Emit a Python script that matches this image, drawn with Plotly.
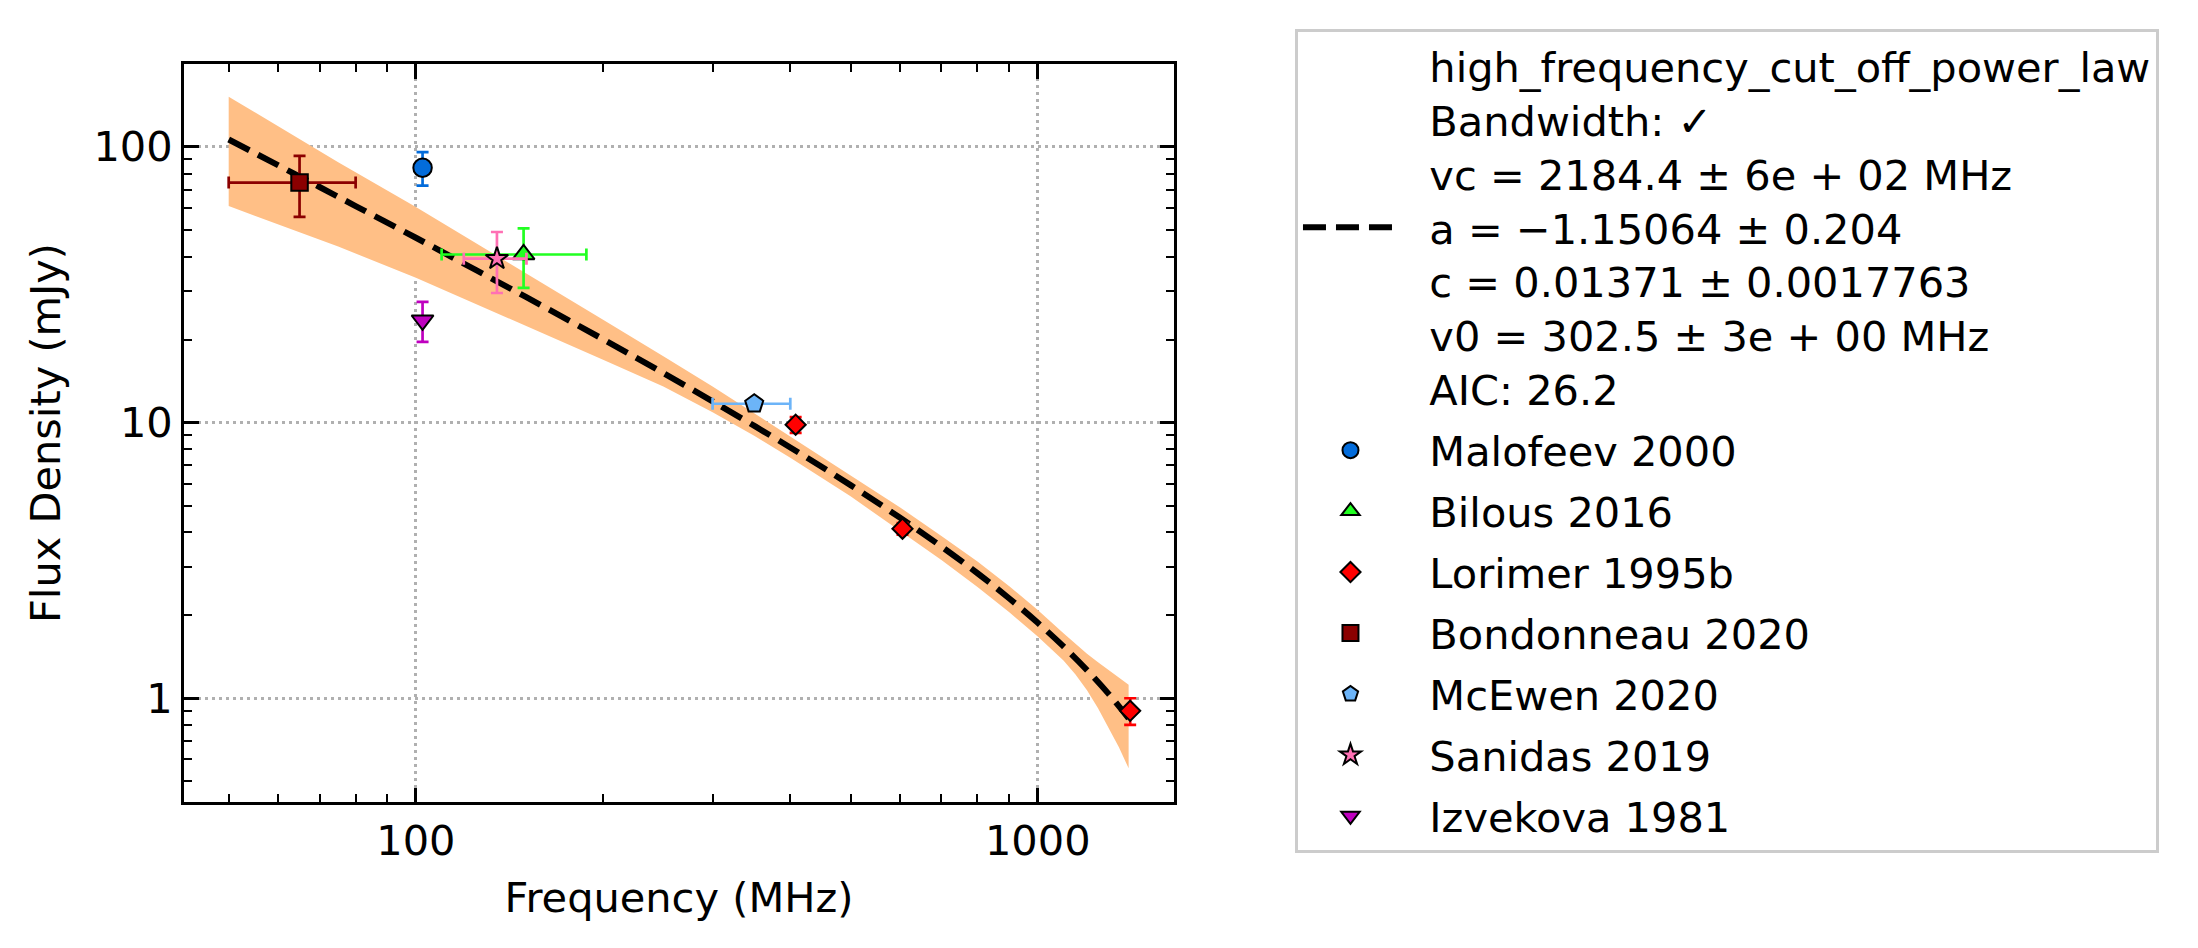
import plotly.graph_objects as go

# ---------------- data ----------------
malofeev_f = [102.5]
malofeev_s = [84.0]
malofeev_err = [11.7]

bilous_f = [149.0]
bilous_s = [40.7]
bilous_err = [9.9]
bilous_ferr = [39.0]

lorimer_f = [408.0, 606.0, 1408.0]
lorimer_s = [9.82, 4.12, 0.90]
lorimer_err = [0.65, 0.2, 0.1]

bond_f = [65.0]
bond_s = [74.2]
bond_err = [18.5]
bond_ferr = [15.0]

mcewen_f = [350.0]
mcewen_s = [11.7]
mcewen_err = [0.5]
mcewen_ferr = [50.0]

sanidas_f = [135.0]
sanidas_s = [39.3]
sanidas_err = [9.8]
sanidas_ferr = [15.6]

izv_f = [102.5]
izv_s = [23.5]
izv_err = [3.9]

# fitted model curve
fit_f = [50, 60, 70, 80, 100, 125, 150, 200, 250, 300, 400, 500, 600, 700,
         800, 900, 1000, 1100, 1200, 1300, 1400]
fit_s = [106.3, 85.8, 71.5, 61.0, 46.8, 35.7, 28.6, 20.05, 15.12, 11.94, 8.12,
         5.93, 4.52, 3.55, 2.84, 2.30, 1.878, 1.541, 1.265, 1.037, 0.845]

# uncertainty band edges
band_f = [50, 75, 100, 150, 200, 250, 300, 350, 400, 500, 600, 700, 800, 900, 1000,
          1100, 1150, 1200, 1250, 1300, 1350, 1400]
band_hi = [152, 88.0, 60.5, 35.0, 23.6, 17.4, 13.5, 10.8, 8.9, 6.45, 4.93, 3.88, 3.13,
           2.55, 2.09, 1.72, 1.57, 1.45, 1.35, 1.27, 1.19, 1.118]
band_lo = [61, 43.5, 33.5, 22.5, 16.9, 13.5, 10.9, 8.95, 7.45, 5.40, 4.05, 3.17, 2.53,
           2.05, 1.674, 1.37, 1.22, 1.07, 0.92, 0.78, 0.665, 0.557]

NB = "\u00a0\u00a0"
fit_lines = ["high_frequency_cut_off_power_law", "Bandwidth: ✓",
             "vc = 2184.4 ± 6e + 02 MHz", "a = −1.15064 ± 0.204",
             "c = 0.01371 ± 0.0017763", "v0 = 302.5 ± 3e + 00 MHz", "AIC: 26.2"]
fit_label = "<br>".join(NB + s for s in fit_lines)

x_major = [100, 1000]
x_major_text = ["100", "1000"]
x_minor = [50, 60, 70, 80, 90, 200, 300, 400, 500, 600, 700, 800, 900]
y_major = [1, 10, 100]
y_major_text = ["1", "10", "100"]
y_minor = [0.5, 0.6, 0.7, 0.8, 0.9, 2, 3, 4, 5, 6, 7, 8, 9,
           20, 30, 40, 50, 60, 70, 80, 90, 200]

FONT = "DejaVu Sans"
FS = 41.5

fig = go.Figure()

# band
fig.add_trace(go.Scatter(x=band_f, y=band_lo, mode="lines", line=dict(width=0),
                         showlegend=False, hoverinfo="skip", legendgroup="band"))
fig.add_trace(go.Scatter(x=band_f, y=band_hi, mode="lines", line=dict(width=0),
                         fill="tonexty", fillcolor="rgb(255,191,134)",
                         showlegend=False, hoverinfo="skip", legendgroup="band"))
# fit line
fig.add_trace(go.Scatter(x=fit_f, y=fit_s, mode="lines", name=fit_label, legendgroup="fit",
                         line=dict(color="black", width=6, dash="23px,10px", shape="spline")))


def pts(name, fx, sy, serr, color, symbol, size, ferr=None):
    tr = go.Scatter(
        x=fx, y=sy, mode="markers", name=NB + name, legendgroup=name,
        marker=dict(color=color, symbol=symbol, size=size,
                    line=dict(color="black", width=2)),
        error_y=dict(type="data", array=serr, color=color, thickness=2.7, width=6),
    )
    if ferr is not None:
        tr.error_x = dict(type="data", array=ferr, color=color, thickness=2.7, width=6)
    fig.add_trace(tr)


pts("Malofeev 2000", malofeev_f, malofeev_s, malofeev_err, "#036cdb", "circle", 18.5)
pts("Bilous 2016", bilous_f, bilous_s, bilous_err, "#22ff22", "triangle-up", 19, bilous_ferr)
pts("Lorimer 1995b", lorimer_f, lorimer_s, lorimer_err, "#ff0000", "diamond", 15.5)
pts("Bondonneau 2020", bond_f, bond_s, bond_err, "#8b0000", "square", 16.5, bond_ferr)
pts("McEwen 2020", mcewen_f, mcewen_s, mcewen_err, "#6cb4f8", "pentagon", 19, mcewen_ferr)
pts("Sanidas 2019", sanidas_f, sanidas_s, sanidas_err, "#ff70b4", "star", 17, sanidas_ferr)
pts("Izvekova 1981", izv_f, izv_s, izv_err, "#bf00bf", "triangle-down", 19)

axis_common = dict(
    type="log", showline=True, linecolor="black", linewidth=3, mirror="ticks",
    ticks="inside", ticklen=14.5, tickwidth=3, tickcolor="black",
    showgrid=True, gridcolor="#b0b0b0", gridwidth=2.6, griddash="2.6px,4.4px",
    zeroline=False, tickfont=dict(family=FONT, size=FS, color="black"),
)

fig.update_xaxes(
    **axis_common, range=[1.6271, 3.2191], tickmode="array", tickvals=x_major,
    ticktext=x_major_text,
    minor=dict(tickmode="array", tickvals=x_minor, ticks="inside", ticklen=8.3,
               tickwidth=2.4, tickcolor="black", showgrid=False),
    title=dict(text="Frequency (MHz)", font=dict(family=FONT, size=FS, color="black"),
               standoff=20),
)
fig.update_yaxes(
    **axis_common, range=[-0.3764, 2.3005], tickmode="array", tickvals=y_major,
    ticktext=y_major_text,
    minor=dict(tickmode="array", tickvals=y_minor, ticks="inside", ticklen=8.3,
               tickwidth=2.4, tickcolor="black", showgrid=False),
    title=dict(text="Flux Density (mJy)", font=dict(family=FONT, size=FS, color="black"),
               standoff=20),
)

fig.update_layout(
    width=2198, height=948, autosize=False,
    margin=dict(l=184, r=1024, t=64, b=146, autoexpand=False),
    paper_bgcolor="white", plot_bgcolor="white",
    font=dict(family=FONT, size=FS, color="black"),
    showlegend=True,
    legend=dict(x=1.1222, y=1.0474, xanchor="left", yanchor="top",
                bgcolor="white", bordercolor="#cccccc", borderwidth=3,
                font=dict(family=FONT, size=FS, color="black"),
                itemwidth=95, valign="middle", traceorder="grouped",
                tracegroupgap=4, maxheight=1.0),
)

fig.write_html("out.html")
